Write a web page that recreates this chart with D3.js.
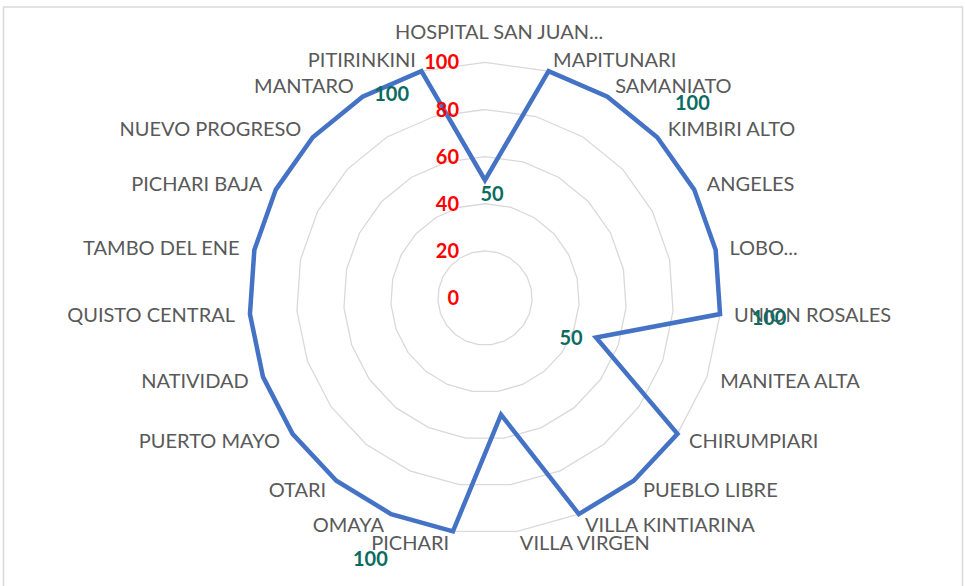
<!DOCTYPE html>
<html>
<head>
<meta charset="utf-8">
<script src="https://cdn.jsdelivr.net/npm/d3@7"></script>
<style>
  body { margin: 0; background: #fff; }
  text { font-family: Lato, "Open Sans", sans-serif; }
</style>
</head>
<body>
<div id="radar"></div>
<script>
let categories = [
  "HOSPITAL SAN JUAN...", "MAPITUNARI", "SAMANIATO", "KIMBIRI ALTO", "ANGELES",
  "LOBO...", "UNION ROSALES", "MANITEA ALTA", "CHIRUMPIARI", "PUEBLO LIBRE",
  "VILLA KINTIARINA", "VILLA VIRGEN", "PICHARI", "OMAYA", "OTARI",
  "PUERTO MAYO", "NATIVIDAD", "QUISTO CENTRAL", "TAMBO DEL ENE", "PICHARI BAJA",
  "NUEVO PROGRESO", "MANTARO", "PITIRINKINI"
];
let values = [50, 100, 100, 100, 100, 100, 100, 50, 100, 100, 100, 50, 100, 100, 100,
  100, 100, 100, 100, 100, 100, 100, 100];
let ticks = [0, 20, 40, 60, 80, 100];
// only these points carry a data label in the original
let labelled = [0, 2, 6, 7, 12, 21];

// hand-placed label nudges (dx, dy from the point)
let labelNudge = {
  0: [7, 13.5], 2: [85, 6.5], 6: [49, 4], 7: [-25, 1], 12: [-82.5, 28], 21: [29, -3]
};

let width = 965, height = 586;
let cx = 485, cy = 298, R = 235.6;

let svg = d3.select("#radar").append("svg")
  .attr("width", width)
  .attr("height", height);

svg.append("rect")
  .attr("x", 3.5).attr("y", 7)
  .attr("width", 959).attr("height", 600)
  .attr("fill", "#fff")
  .attr("stroke", "#d9d9d9")
  .attr("stroke-width", 1.5);

let g = svg.append("g")
  .attr("transform", `translate(${cx},${cy})`);

let r = d3.scaleLinear().domain([0, 100]).range([0, R]);
let angle = d3.scaleLinear().domain([0, categories.length]).range([0, 2 * Math.PI]);

let ring = d3.lineRadial()
  .angle((d, i) => angle(i))
  .radius(d => r(d))
  .curve(d3.curveLinearClosed);

// grid rings
g.selectAll(".ring")
  .data(ticks.filter(t => t > 0))
  .join("path")
  .attr("class", "ring")
  .attr("d", t => ring(categories.map(() => t)))
  .attr("fill", "none")
  .attr("stroke", "#d9d9d9")
  .attr("stroke-width", 1.3);

// series
g.append("path")
  .attr("d", ring(values))
  .attr("fill", "none")
  .attr("stroke", "#4472c4")
  .attr("stroke-width", 4.5)
  .attr("stroke-linejoin", "miter");

// axis tick labels
g.selectAll(".tick")
  .data(ticks)
  .join("text")
  .attr("class", "tick")
  .attr("x", -26)
  .attr("y", t => -r(t))
  .attr("dy", "0.35em")
  .attr("text-anchor", "end")
  .attr("font-size", 20)
  .attr("font-weight", "bold")
  .attr("fill", "#ff0000")
  .text(t => t);

// category labels
let px = (v, i) => Math.sin(angle(i)) * r(v);
let py = (v, i) => -Math.cos(angle(i)) * r(v);

g.selectAll(".cat")
  .data(categories)
  .join("text")
  .attr("class", "cat")
  .attr("x", (d, i) => {
    let s = Math.sin(angle(i));
    if (i === 0) return 14;
    return px(100, i) + s * 13 + (s > 0 ? 1 : -2);
  })
  .attr("y", (d, i) => i === 0 ? -266 : py(100, i) - Math.cos(angle(i)) * 12)
  .attr("dy", "0.35em")
  .attr("text-anchor", (d, i) => {
    let s = Math.sin(angle(i));
    return Math.abs(s) < 0.01 ? "middle" : (s > 0 ? "start" : "end");
  })
  .attr("font-size", 20)
  .attr("fill", "#595959")
  .text(d => d);

// data labels
g.selectAll(".val")
  .data(labelled)
  .join("text")
  .attr("class", "val")
  .attr("x", i => px(values[i], i) + labelNudge[i][0])
  .attr("y", i => py(values[i], i) + labelNudge[i][1])
  .attr("dy", "0.35em")
  .attr("text-anchor", "middle")
  .attr("font-size", 20)
  .attr("font-weight", "bold")
  .attr("fill", "#0b6b62")
  .text(i => values[i]);
</script>
</body>
</html>
